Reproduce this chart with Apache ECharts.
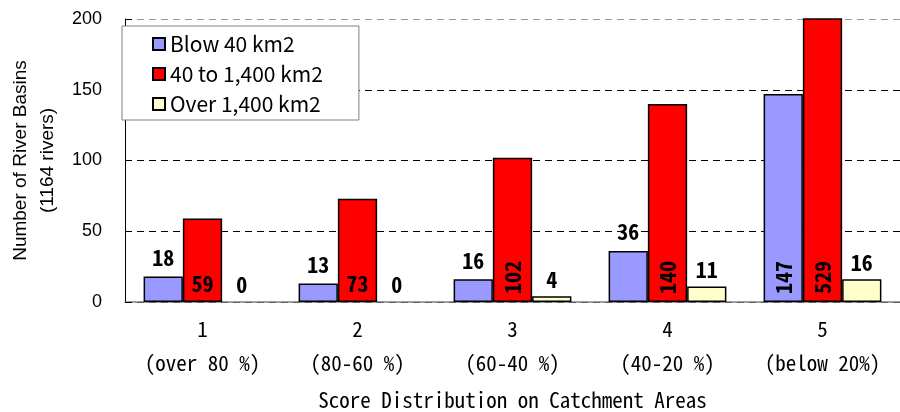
<!DOCTYPE html>
<html>
<head>
<meta charset="utf-8">
<script src="https://cdn.jsdelivr.net/npm/echarts@6/dist/echarts.min.js"></script>
<style>
html,body{margin:0;padding:0;background:#fff;}
#c{width:900px;height:412px;}
</style>
</head>
<body>
<div id="c"></div>
<script>
const categories = ['1\n(over 80 %)', '2\n(80-60 %)', '3\n(60-40 %)', '4\n(40-20 %)', '5\n(below 20%)'];
const seriesNames = ['Blow 40 km2', '40 to 1,400 km2', 'Over 1,400 km2'];
const below40 = [18, 13, 16, 36, 147];
const mid40to1400 = [59, 73, 102, 140, 529];
const over1400 = [0, 0, 4, 11, 16];
const yTicks = [0, 50, 100, 150, 200];

const monoFont = '"Noto Sans Mono CJK JP", "DejaVu Sans Mono", monospace';
const labelFont = {fontFamily: monoFont, fontWeight: 'bold', fontSize: 22, color: '#000'};
const rotatedLabel = Object.assign({show: true, position: 'insideBottom', rotate: 90, align: 'left', verticalAlign: 'middle', distance: 8}, labelFont);

function makeData(vals) {
  return vals.map(v => {
    if (v >= 100) return {value: v, label: rotatedLabel};
    if (v === 0) return {value: v, itemStyle: {borderWidth: 0}};
    return {value: v};
  });
}

const colors = ['#9999FF', '#FF0000', '#FFFFCC'];
const defaultPos = ['top', 'insideBottom', 'top'];
const defaultDist = [8, 7, 6];
const vals = [below40, mid40to1400, over1400];

const chart = echarts.init(document.getElementById('c'), null, {renderer: 'canvas'});
chart.setOption({
  animation: false,
  grid: {left: 125, right: 0, top: 19, bottom: 110, containLabel: false, outerBoundsMode: 'none'},
  legend: {
    orient: 'vertical', left: 122, top: 26,
    padding: [7, 36, 5, 30],
    backgroundColor: '#fff', borderColor: '#808080', borderWidth: 1,
    itemWidth: 12, itemHeight: 12, itemGap: 8, icon: 'rect',
    textStyle: {fontFamily: 'Noto Sans CJK JP', fontSize: 21, color: '#000', lineHeight: 22},
    data: seriesNames
  },
  xAxis: {
    type: 'category', data: categories,
    name: 'Score Distribution on Catchment Areas', nameLocation: 'middle', nameGap: 88,
    nameTextStyle: {fontFamily: monoFont, fontSize: 21, color: '#000'},
    axisLine: {lineStyle: {color: '#808080', width: 1.5}},
    axisTick: {inside: true, length: 7, lineStyle: {color: '#808080'}},
    axisLabel: {fontFamily: monoFont, fontSize: 21, color: '#000', lineHeight: 34, margin: 10}
  },
  yAxis: {
    type: 'value', min: yTicks[0], max: yTicks[yTicks.length - 1], interval: 50,
    name: 'Number of River Basins\n(1164 rivers)', nameLocation: 'middle', nameGap: 64, nameRotate: 90,
    nameTextStyle: {fontFamily: 'Liberation Sans', fontSize: 19, color: '#000', lineHeight: 27},
    axisLine: {show: true, lineStyle: {color: '#000', width: 1}},
    axisTick: {show: true, inside: true, length: 7, lineStyle: {color: '#000'}},
    axisLabel: {fontFamily: 'Liberation Sans', fontSize: 18, color: '#000', margin: 23},
    splitLine: {show: true, lineStyle: {type: [7, 5], color: ['#000', '#000', '#000', '#000', '#999'], width: 1}}
  },
  series: vals.map((v, i) => ({
    name: seriesNames[i], type: 'bar', data: makeData(v),
    barGap: '0%', barCategoryGap: '24%',
    itemStyle: {color: colors[i], borderColor: '#000', borderWidth: 1.5},
    label: Object.assign({show: true, position: defaultPos[i], distance: defaultDist[i]}, labelFont)
  }))
});
</script>
</body>
</html>
